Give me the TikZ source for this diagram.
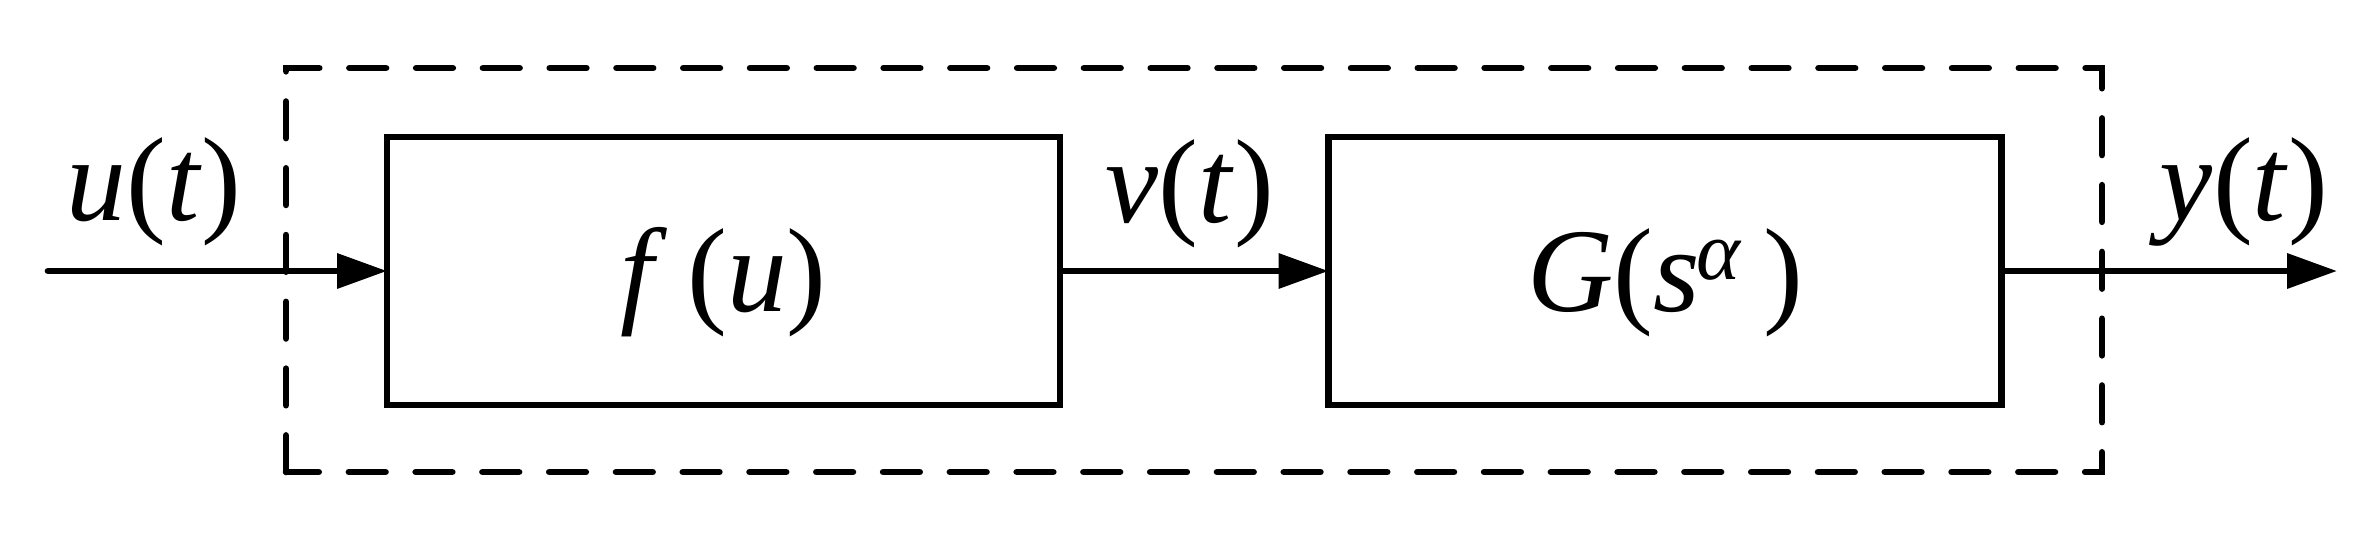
\documentclass[tikz,border=0pt]{standalone}
\usepackage{fontspec}
\setmainfont{Liberation Serif}
\usetikzlibrary{arrows.meta,positioning}

\begin{document}
\begin{tikzpicture}[line width=1.9pt,
    blk/.style={draw,minimum width=6.73cm,minimum height=2.68cm,outer sep=0pt,
      text height=1.0cm,text depth=0.2cm,font=\fontsize{34}{40}\selectfont},
    sig/.style={anchor=base,font=\fontsize{34}{40}\selectfont},
    >={Triangle[length=0.5cm,width=0.34cm]}]
    \useasboundingbox (0,0) rectangle (23.74,5.39);
    \draw[dash pattern=on 10.4pt off 8.6pt,line cap=round] (2.86,0.67) rectangle (21.02,4.71);
    \node[blk] (fu) at (7.235,2.68) {\textit{f}\,(\textit{u})};
    \node[blk] (gs) at (16.65,2.68) {\textit{G}(\textit{s}\kern-1pt\textsuperscript{\textit{α}}\,)};
    \coordinate (in) at (0.48,2.68);
    \coordinate (out) at (23.37,2.68);
    \draw[->,line cap=round] (in) -- (fu);
    \draw[->] (fu) -- (gs);
    \draw[->] (gs) -- (out);
    \node[sig] (lu) at (1.54,3.19) {\textit{u}(\textit{t})};
    \node[sig] (lv) at (11.90,3.17) {\textit{v}(\textit{t})};
    \node[sig] (ly) at (22.44,3.19) {\textit{y}(\textit{t})};
  \end{tikzpicture}
\end{document}
